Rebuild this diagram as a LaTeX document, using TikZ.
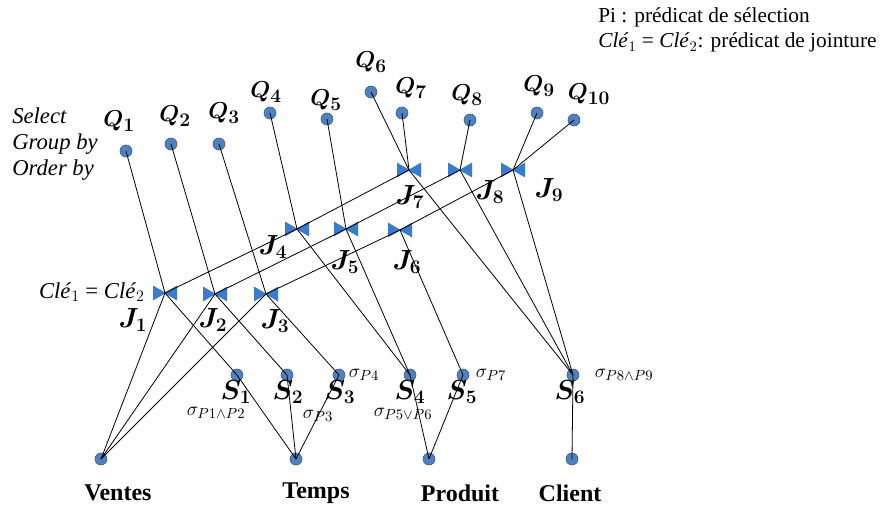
\documentclass[tikz,border=0pt]{standalone}
\usepackage{fontspec}
\setmainfont{Liberation Serif}
\usepackage{amsmath,bm}
\definecolor{ptblue}{RGB}{79,129,189}
\definecolor{ptedge}{RGB}{56,93,138}
\definecolor{jblue}{RGB}{58,124,204}
\newcommand{\bowtiepath}[1]{%
  \fill[#1] (-9pt,5.5pt) -- (0.6pt,0pt) -- (-9pt,-5.5pt) -- cycle;
  \fill[#1] (9pt,5.5pt) -- (-0.6pt,0pt) -- (9pt,-5.5pt) -- cycle;}
\newcommand{\clekey}{\textit{Clé}$_1$ = \textit{Clé}$_2$}
\tikzset{
  pt/.style={circle, fill=ptblue, draw=ptedge, line width=0.5pt, inner sep=0pt, minimum size=9pt},
  bowtie/.style={inner sep=0pt, minimum width=22pt, minimum height=14pt,
    path picture={
      \begin{scope}[shift={(path picture bounding box.center)}]
        \begin{scope}[shift={(0.9pt,-0.9pt)}]\bowtiepath{black!22}\end{scope}
        \bowtiepath{jblue}
      \end{scope}}},
  edge/.style={draw=black, line width=0.6pt},
  qlbl/.style={inner sep=0pt, font=\fontsize{19}{22}\selectfont},
  jlbl/.style={inner sep=0pt, font=\fontsize{21}{24}\selectfont},
  siglbl/.style={inner sep=0pt, font=\fontsize{15}{18}\selectfont},
  baselbl/.style={inner sep=0pt, font=\fontsize{18}{21}\selectfont\bfseries},
}
\begin{document}
\begin{tikzpicture}[x=0.75pt,y=-0.75pt]
\useasboundingbox (0,0) rectangle (893,507);
% legend
\node[inner sep=0pt, anchor=west, align=left, font=\fontsize{16}{18.75}\selectfont] (legend) at (598,30)
  {Pi : prédicat de sélection\\ \clekey: prédicat de jointure};
\node[inner sep=0pt, anchor=west, align=left, font=\fontsize{17}{19.5}\selectfont\itshape] (sgo) at (12,144)
  {Select\\Group by\\Order by};
\node[inner sep=0pt, anchor=east, font=\fontsize{17}{19}\selectfont] (cle) at (145,292) {\clekey};
% Q nodes
\node[pt] (Q1) at (126,151) {};
\node[pt] (Q2) at (171,144) {};
\node[pt] (Q3) at (219,144) {};
\node[pt] (Q4) at (270,113) {};
\node[pt] (Q5) at (327,119) {};
\node[pt] (Q6) at (371,92) {};
\node[pt] (Q7) at (402,113) {};
\node[pt] (Q8) at (470,120) {};
\node[pt] (Q9) at (537,113) {};
\node[pt] (Q10) at (574,120) {};
\node[qlbl] (lQ1) at (119,121) {$\bm{Q_1}$};
\node[qlbl] (lQ2) at (175,116) {$\bm{Q_2}$};
\node[qlbl] (lQ3) at (224,113) {$\bm{Q_3}$};
\node[qlbl] (lQ4) at (266,92) {$\bm{Q_4}$};
\node[qlbl] (lQ5) at (326,100) {$\bm{Q_5}$};
\node[qlbl] (lQ6) at (371,62) {$\bm{Q_6}$};
\node[qlbl] (lQ7) at (411,88) {$\bm{Q_7}$};
\node[qlbl] (lQ8) at (467,95) {$\bm{Q_8}$};
\node[qlbl] (lQ9) at (539,86) {$\bm{Q_9}$};
\node[qlbl] (lQ10) at (589,94) {$\bm{Q_{10}}$};
% joins
\node[bowtie] (J1) at (165,293) {};
\node[bowtie] (J2) at (215,294) {};
\node[bowtie] (J3) at (266,294) {};
\node[bowtie] (J4) at (297,229) {};
\node[bowtie] (J5) at (346,229) {};
\node[bowtie] (J6) at (400,230) {};
\node[bowtie] (J7) at (409,170) {};
\node[bowtie] (J8) at (460,170) {};
\node[bowtie] (J9) at (513,170) {};
\node[jlbl] (lJ1) at (133,320) {$\bm{J_1}$};
\node[jlbl] (lJ2) at (213,320) {$\bm{J_2}$};
\node[jlbl] (lJ3) at (275,321) {$\bm{J_3}$};
\node[jlbl] (lJ4) at (273,247) {$\bm{J_4}$};
\node[jlbl] (lJ5) at (345,262) {$\bm{J_5}$};
\node[jlbl] (lJ6) at (407,262) {$\bm{J_6}$};
\node[jlbl] (lJ7) at (410,197) {$\bm{J_7}$};
\node[jlbl] (lJ8) at (490,192) {$\bm{J_8}$};
\node[jlbl] (lJ9) at (549,190) {$\bm{J_9}$};
% S nodes
\node[pt] (S1) at (237,375) {};
\node[pt] (S2) at (287,375) {};
\node[pt] (S3) at (339,375) {};
\node[pt] (S4) at (410,375) {};
\node[pt] (S5) at (463,375) {};
\node[pt] (S6) at (573,375) {};
\node[jlbl] (lS1) at (236,392) {$\bm{S_1}$};
\node[jlbl] (lS2) at (288,392) {$\bm{S_2}$};
\node[jlbl] (lS3) at (340,392) {$\bm{S_3}$};
\node[jlbl] (lS4) at (410,392) {$\bm{S_4}$};
\node[jlbl] (lS5) at (462,392) {$\bm{S_5}$};
\node[jlbl] (lS6) at (570,392) {$\bm{S_6}$};
\node[siglbl] (g1) at (216,413) {$\sigma_{P1\wedge P2}$};
\node[siglbl] (g2) at (318,416) {$\sigma_{P3}$};
\node[siglbl] (g3) at (364,375) {$\sigma_{P4}$};
\node[siglbl] (g4) at (403,414) {$\sigma_{P5\vee P6}$};
\node[siglbl] (g5) at (491,375) {$\sigma_{P7}$};
\node[siglbl] (g6) at (624,375) {$\sigma_{P8\wedge P9}$};
% base tables
\node[pt] (V) at (101,459) {};
\node[pt] (T) at (296,459) {};
\node[pt] (P) at (429,459) {};
\node[pt] (C) at (572,459) {};
\node[baselbl] (lV) at (118,493) {Ventes};
\node[baselbl] (lT) at (316,493) {Temps};
\node[baselbl] (lP) at (460,493) {Produit};
\node[baselbl] (lC) at (570,493) {Client};
% edges
\foreach \a/\b in {Q1/J1,Q2/J2,Q3/J3,Q4/J4,Q5/J5,Q6/J7,Q7/J7,Q8/J8,Q9/J9,Q10/J9,
  V/J1,V/J2,V/J3,J1/S1,J2/S2,J3/S3,J1/J4,J2/J5,J3/J6,J4/S4,J5/S4,J6/S5,
  J4/J7,J5/J8,J6/J9,J7/S6,J8/S6,J9/S6,T/S1,T/S2,T/S3,P/S4,P/S5,C/S6}
  \draw[edge] (\a.center) -- (\b.center);
\end{tikzpicture}
\end{document}
